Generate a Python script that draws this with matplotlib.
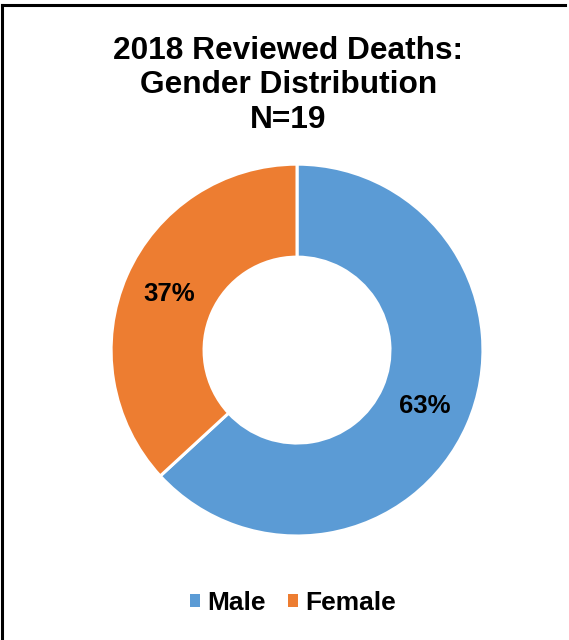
import matplotlib
matplotlib.use("Agg")
import matplotlib.pyplot as plt
from matplotlib.lines import Line2D
from matplotlib.patches import Patch

plt.rcParams["font.family"] = ["Liberation Sans", "DejaVu Sans"]

labels = ["Male", "Female"]
counts = [12, 7]
colors = ["#5B9BD5", "#ED7D31"]

fig = plt.figure(figsize=(5.69, 6.40), dpi=100)

# frame lines (top and left only)
fig.add_artist(Line2D([0.003, 0.993], [0.992, 0.992], color="black", lw=2.2,
                      transform=fig.transFigure))
fig.add_artist(Line2D([0.003, 0.003], [0.0, 0.992], color="black", lw=2.2,
                      transform=fig.transFigure))

fig.text(0.507, 0.789, "2018 Reviewed Deaths:\nGender Distribution\nN=19",
         ha="center", va="bottom", fontsize=22.8, fontweight="bold",
         linespacing=1.2)

ax = fig.add_axes([0.195, 0.1625, 0.654, 0.581])
wedges, texts, autotexts = ax.pie(
    counts, colors=colors, startangle=90, counterclock=False,
    autopct="%1.0f%%", pctdistance=0.75, radius=1.0,
    wedgeprops=dict(width=0.5, edgecolor="white", linewidth=2.2),
    textprops=dict(fontsize=18.5, fontweight="bold", color="black"))
ax.set_xlim(-1, 1)
ax.set_ylim(-1, 1)
ax.set_aspect("equal")
ax.axis("off")

handles = [Patch(facecolor=c, edgecolor="none") for c in colors]
fig.legend(handles, labels, loc="center", bbox_to_anchor=(0.515, 0.058),
           ncol=2, frameon=False, handlelength=0.38, handleheight=0.38,
           handletextpad=0.27, columnspacing=0.87,
           prop=dict(size=19, weight="bold"))

fig.savefig("out.png", dpi=100)
